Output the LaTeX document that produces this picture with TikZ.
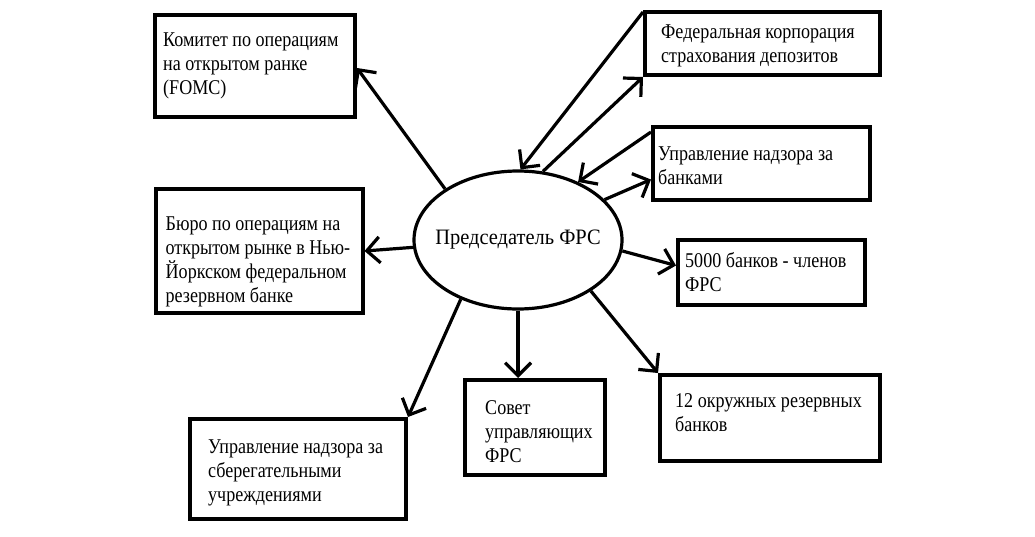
\documentclass[tikz,border=0pt]{standalone}
\usepackage{fontspec}
\setmainfont[FakeStretch=0.86]{Liberation Serif}
\newfontfamily\centrefont[FakeStretch=0.93]{Liberation Serif}
\usetikzlibrary{arrows.meta,shapes.geometric}
\begin{document}
\begin{tikzpicture}[x=1pt,y=-1pt,
  box/.style={draw,line width=4pt,rectangle,inner sep=0pt},
  txt/.style={anchor=west,align=left,inner sep=0pt,font=\fontsize{21}{24}\selectfont},
  arr/.style={line width=3.2pt,-{Straight Barb[length=13pt,width=26pt]}}]
\useasboundingbox (0,0) rectangle (1035,536);
\fill[white] (0,0) rectangle (1035,536);
% centre
\node[draw,ellipse,line width=3.2pt,minimum width=208pt,minimum height=138pt,inner sep=0pt] (e) at (518,240) {};
\node[font=\centrefont\fontsize{22}{24}\selectfont,inner sep=0pt] (et) at (e.center) {Председатель ФРС};
% boxes
\node[box,minimum width=200pt,minimum height=102pt] (b1) at (255,66) {};
\node[txt] (t1) at ([xshift=10pt]b1.west) {Комитет по операциям\\на открытом ранке\\(FOMC)};
\node[box,minimum width=235pt,minimum height=63pt] (b2) at (762.5,43.5) {};
\node[txt] (t2) at ([xshift=18pt,yshift=-2pt]b2.west) {Федеральная корпорация\\страхования депозитов};
\node[box,minimum width=217pt,minimum height=73pt] (b3) at (761.5,163.5) {};
\node[txt] (t3) at ([xshift=7pt,yshift=-2pt]b3.west) {Управление надзора за\\банками};
\node[box,minimum width=187pt,minimum height=65pt] (b4) at (771.5,272.5) {};
\node[txt] (t4) at ([xshift=9pt]b4.west) {5000 банков - членов\\ФРС};
\node[box,minimum width=220pt,minimum height=86pt] (b5) at (770,418) {};
\node[txt] (t5) at ([xshift=17pt,yshift=5pt]b5.west) {12 окружных резервных\\банков};
\node[box,minimum width=140pt,minimum height=95pt] (b6) at (535,427.5) {};
\node[txt] (t6) at ([xshift=22pt,yshift=-4pt]b6.west) {Совет\\управляющих\\ФРС};
\node[box,minimum width=216pt,minimum height=100pt] (b7) at (298,469) {};
\node[txt] (t7) at ([xshift=20pt,yshift=-4pt]b7.west) {Управление надзора за\\сберегательными\\учреждениями};
\node[box,minimum width=207pt,minimum height=124pt] (b8) at (259,251) {};
\node[txt] (t8) at ([xshift=12pt,yshift=-11pt]b8.west) {Бюро по операциям на\\открытом рынке в Нью-\\Йоркском федеральном\\резервном банке};
% connectors
\draw[arr] (e.145) -- ([yshift=-2pt]b1.east);
\draw[arr] (e.184) -- (b8.east);
\draw[arr] (e.226) -- (b7.north east);
\draw[arr] (e.south) -- (e.south |- b6.north);
\draw[arr] (e.325) -- (b5.north west);
\draw[arr] (e.354) -- ([yshift=7pt]b4.west);
\draw[arr] (e.25) -- ([yshift=-16pt]b3.west);
\draw[arr] ([yshift=-7pt]b3.north west) -- (e.44);
\draw[arr] ([yshift=-2pt]b2.north west) -- (e.88);
\draw[arr] (e.70) -- (b2.south west);
\end{tikzpicture}
\end{document}
